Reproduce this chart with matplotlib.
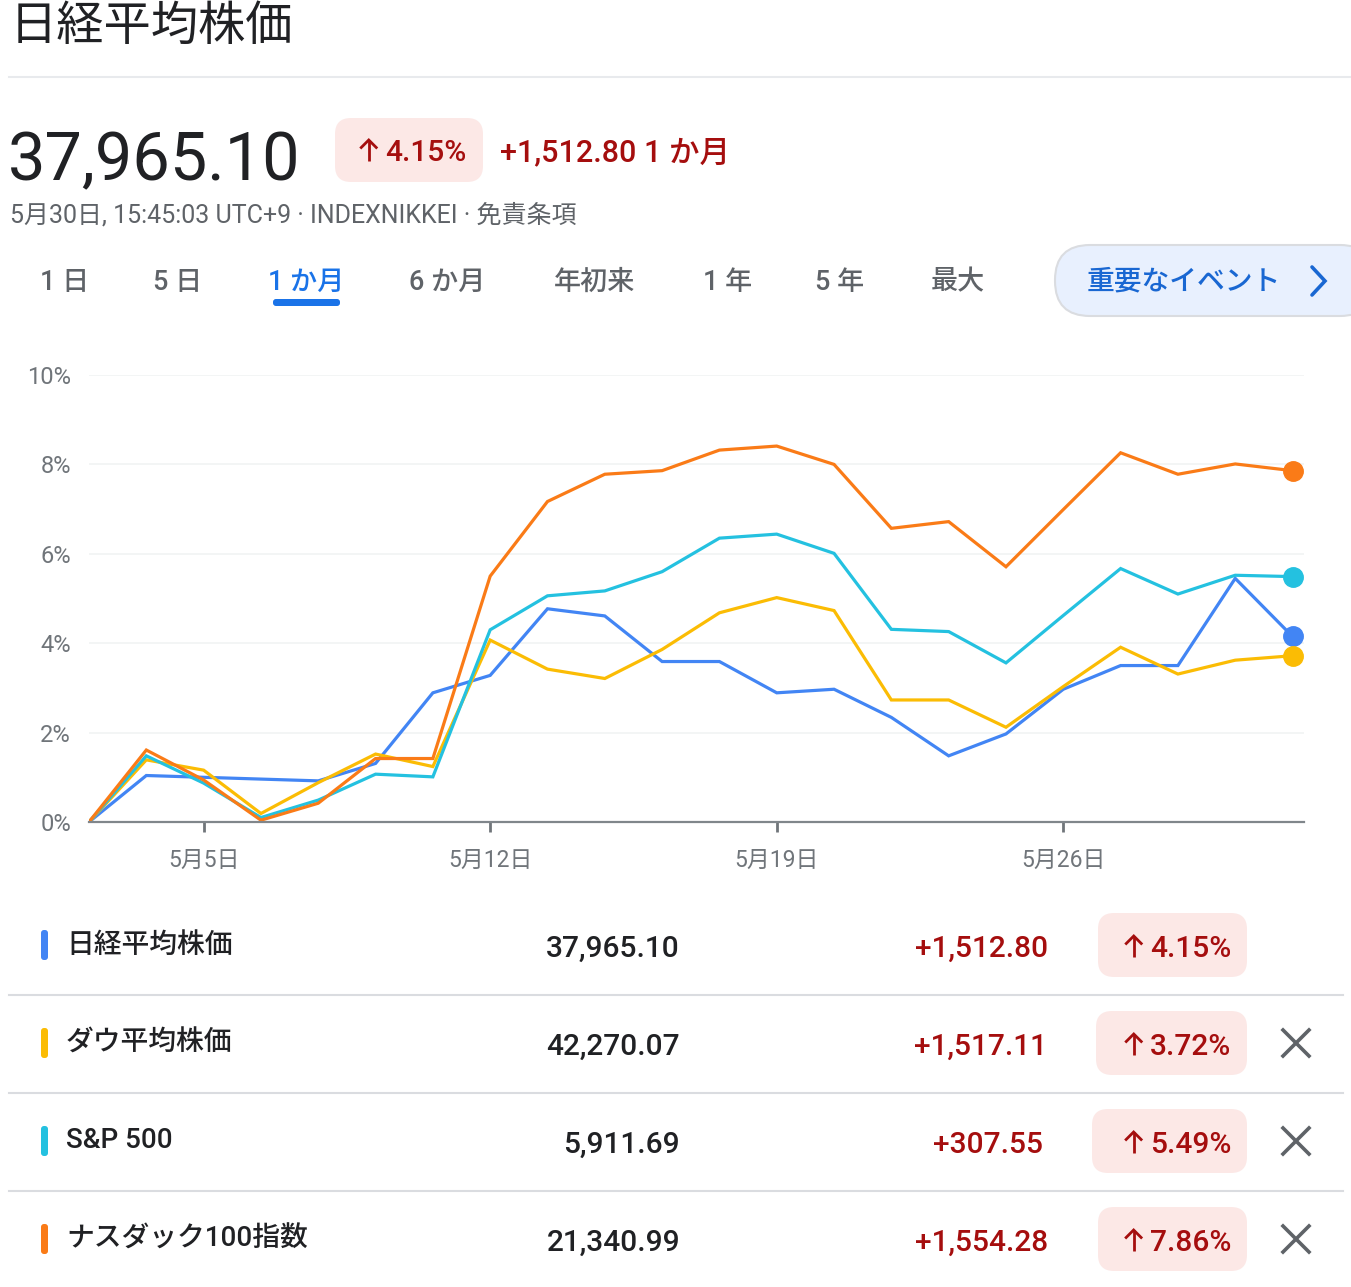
import matplotlib
matplotlib.use("Agg")
import matplotlib.pyplot as plt
from matplotlib.patches import FancyBboxPatch

plt.rcParams['font.family'] = ['Roboto', 'Noto Sans CJK JP', 'DejaVu Sans']

W, H = 1351, 1287

# --- data (percent change over 1 month) ---
day_idx = list(range(22))
tick_idx = [2, 7, 12, 17]
tick_labels = ["5月5日", "5月12日", "5月19日", "5月26日"]
ytick_vals = [0, 2, 4, 6, 8, 10]

nikkei = [0, 1.04, 1.00, 0.96, 0.92, 1.31, 2.89, 3.28, 4.77, 4.61, 3.59,
          3.59, 2.89, 2.97, 2.34, 1.48, 1.97, 2.97, 3.50, 3.50, 5.45, 4.15]
dow = [0, 1.39, 1.16, 0.19, 0.88, 1.52, 1.24, 4.07, 3.42, 3.21, 3.86,
       4.68, 5.02, 4.73, 2.73, 2.73, 2.12, 3.03, 3.91, 3.31, 3.62, 3.72]
sp500 = [0, 1.48, 0.87, 0.10, 0.49, 1.07, 1.01, 4.30, 5.06, 5.17, 5.60,
         6.35, 6.44, 6.01, 4.31, 4.26, 3.56, 4.62, 5.67, 5.10, 5.52, 5.49]
nasdaq = [0, 1.61, 0.94, 0.04, 0.42, 1.42, 1.42, 5.50, 7.17, 7.78, 7.86,
          8.32, 8.41, 8.00, 6.57, 6.72, 5.71, 6.99, 8.26, 7.78, 8.01, 7.86]

names = ["日経平均株価", "ダウ平均株価", "S&P 500", "ナスダック100指数"]
prices = ["37,965.10", "42,270.07", "5,911.69", "21,340.99"]
changes = ["+1,512.80", "+1,517.11", "+307.55", "+1,554.28"]
pcts = ["4.15%", "3.72%", "5.49%", "7.86%"]
colors = ["#4285f4", "#fbbc04", "#24c1e0", "#fa7b17"]
series = [nikkei, dow, sp500, nasdaq]

tabs = ["1 日", "5 日", "1 か月", "6 か月", "年初来", "1 年", "5 年", "最大"]
tab_x = [40, 153, 268, 409, 554, 703, 815, 931]

RED = "#a50e0e"
PINK = "#fce8e6"
GRAY = "#5f6368"
DARK = "#202124"

fig = plt.figure(figsize=(W / 100, H / 100), dpi=100)
fig.patch.set_facecolor("white")
rend = fig.canvas.get_renderer()

# overlay in pixel coordinates
ov = fig.add_axes([0, 0, 1, 1])
ov.set_xlim(0, W)
ov.set_ylim(H, 0)
ov.axis("off")

def pill(x0, y0, x1, y1, r, fc, ec="none", lw=0):
    p = FancyBboxPatch((x0 + r, y0 + r), x1 - x0 - 2 * r, y1 - y0 - 2 * r,
                       boxstyle="round,pad=%g" % r, fc=fc, ec=ec, lw=lw)
    ov.add_patch(p)

def up_arrow(xc, base, h, color):
    ov.plot([xc, xc], [base, base - h], color=color, lw=2, solid_capstyle="butt")
    ov.plot([xc - 7.5, xc, xc + 7.5], [base - h + 7.5, base - h, base - h + 7.5],
            color=color, lw=2, solid_joinstyle="miter")

def pct_badge(x_right, base, txt, size):
    t = ov.text(x_right, base, txt, fontsize=size, color=RED, va="baseline",
                ha="right", fontweight="medium")
    x0 = t.get_window_extent(rend).x0
    up_arrow(x0 - 16, base, 21, RED)

# header
ov.text(10, 27, "日経平均株価", fontsize=34, color=DARK, va="center", ha="left")
ov.plot([9, W], [77, 77], color="#e8eaed", lw=1.5)

ov.text(8, 180, "37,965.10", fontsize=48, color=DARK, va="baseline", ha="left")
pill(335, 118, 483, 182, 16, PINK)
pct_badge(466, 161, "4.15%", 21.5)
ov.text(500, 161, "+1,512.80 1 か月", fontsize=22, color=RED, va="baseline",
        ha="left", fontweight="medium")
ov.text(10, 222, "5月30日, 15:45:03 UTC+9 · INDEXNIKKEI · 免責条項",
        fontsize=18, color=GRAY, va="baseline", ha="left")

# period tabs
for t, x in zip(tabs, tab_x):
    c = "#1a73e8" if t == "1 か月" else GRAY
    ov.text(x, 282, t, fontsize=19.5, color=c, va="center", ha="left",
            fontweight="medium")
pill(273, 299, 340, 306, 3, "#1a73e8")

# events button
pill(1055, 245, 1375, 316, 35, "#e8f0fe", ec="#dadce0", lw=1.5)
ov.text(1087, 282, "重要なイベント", fontsize=20, color="#1967d2", va="center",
        ha="left", fontweight="medium")
ov.plot([1312, 1325, 1312], [267, 281, 295], color="#1967d2", lw=2.6,
        solid_capstyle="round", solid_joinstyle="miter")

# chart
ax = fig.add_axes([89 / W, (H - 822) / H, (1304 - 89) / W, (822 - 375) / H])
ax.set_facecolor("none")
for s, c in zip(series, colors):
    ax.plot(day_idx, s, color=c, lw=2.3, solid_joinstyle="miter")
for s, c in zip(series, colors):
    ax.plot(day_idx[-1], s[-1], "o", ms=14, color=c, clip_on=False, zorder=5)
ax.set_xlim(0, 21.2)
ax.set_ylim(0, 10)
ax.set_xticks(tick_idx)
ax.set_xticklabels(tick_labels)
ax.set_yticks(ytick_vals)
ax.set_yticklabels(["%d%%" % v for v in ytick_vals])
for sp in ["top", "right", "left"]:
    ax.spines[sp].set_visible(False)
ax.spines["bottom"].set_color("#80868b")
ax.spines["bottom"].set_linewidth(1.6)
ax.tick_params(axis="x", length=7, width=2, color="#70757a", pad=12,
               labelsize=16.5, labelcolor="#70757a")
ax.tick_params(axis="y", length=0, pad=13, labelsize=17, labelcolor="#70757a")
ax.yaxis.grid(True, color="#f1f3f4", lw=1.2)
ax.set_axisbelow(True)

# table
row_y = [945, 1043, 1141, 1239]
pill_left = [1098, 1096, 1092, 1098]
change_right = [1048, 1047, 1043, 1048]
for i in range(4):
    y = row_y[i]
    pill(41, y - 15, 48, y + 15, 3, colors[i])
    ov.text(66, y, names[i], fontsize=20, color=DARK, va="center", ha="left",
            fontweight="medium")
    ov.text(680, y + 12, prices[i], fontsize=21.5, color=DARK, va="baseline",
            ha="right", fontweight="medium")
    ov.text(change_right[i], y + 12, changes[i], fontsize=21.5, color=RED,
            va="baseline", ha="right", fontweight="medium")
    pill(pill_left[i], y - 32, 1247, y + 32, 16, PINK)
    pct_badge(1231, y + 12, pcts[i], 21.5)
    if i > 0:
        ov.plot([1283, 1309], [y - 13, y + 13], color=GRAY, lw=2.6)
        ov.plot([1283, 1309], [y + 13, y - 13], color=GRAY, lw=2.6)
    ov.plot([9, 1343], [y + 50, y + 50], color="#dadce0", lw=1.5)

fig.savefig("out.png", dpi=100, facecolor="white")
